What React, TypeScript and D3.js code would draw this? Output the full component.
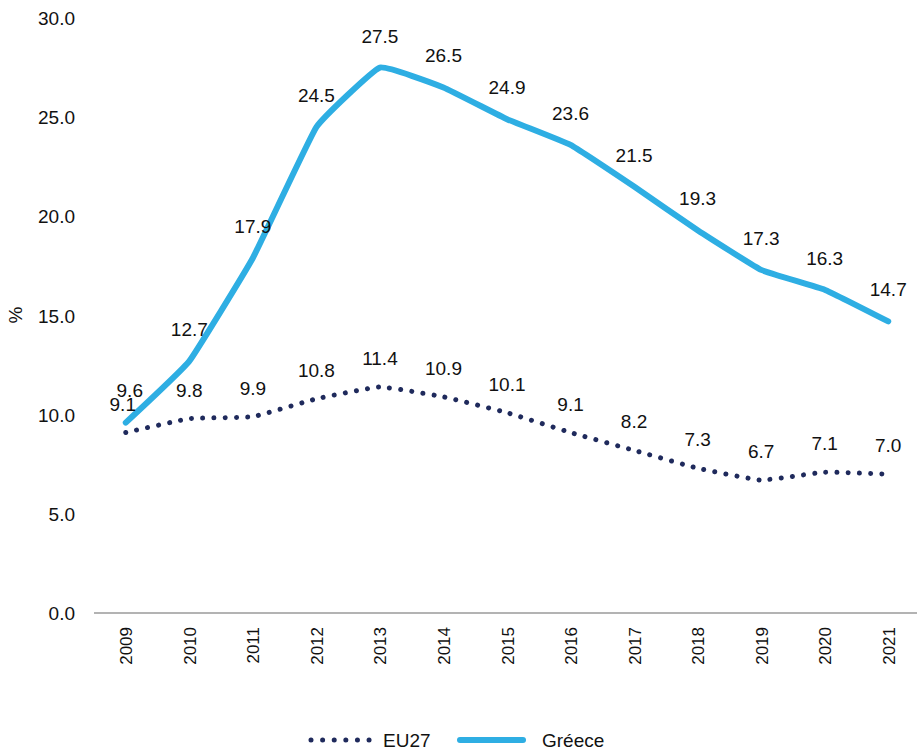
import React from "react";
import * as d3 from "d3";

const years = ["2009","2010","2011","2012","2013","2014","2015","2016","2017","2018","2019","2020","2021"];
const eu27 = [9.1, 9.8, 9.9, 10.8, 11.4, 10.9, 10.1, 9.1, 8.2, 7.3, 6.7, 7.1, 7.0];
const greece = [9.6, 12.7, 17.9, 24.5, 27.5, 26.5, 24.9, 23.6, 21.5, 19.3, 17.3, 16.3, 14.7];
const yTicks = [0, 5, 10, 15, 20, 25, 30];
const seriesNames = ["EU27", "Gréece"];

const W = 917, H = 751;
const FONT = "'Liberation Sans', Arial, Helvetica, sans-serif";
const NAVY = "#1f2a5c";
const BLUE = "#2eaee3";

export default function App() {
  const x = d3.scaleBand<string>().domain(years).range([94, 920]);
  const cx = (yr: string) => (x(yr) as number) + x.bandwidth() / 2;
  const y = d3.scaleLinear().domain([0, 30]).range([613, 18]);

  const line = d3
    .line<number>()
    .x((_, i) => cx(years[i]))
    .y((v) => y(v))
    .curve(d3.curveCardinal.tension(0.7));

  return (
    <svg width={W} height={H} style={{ position: "absolute", left: 0, top: 0, background: "#fff" }}>
      <rect width={W} height={H} fill="#fff" />
      {yTicks.map((t) => (
        <text key={t} x={75} y={y(t) + 7} textAnchor="end" fontFamily={FONT} fontSize={19} fill="#111">
          {t.toFixed(1)}
        </text>
      ))}
      <text
        transform={`translate(22,${315}) rotate(-90)`}
        textAnchor="middle"
        fontFamily={FONT}
        fontSize={19}
        fill="#111"
      >
        %
      </text>
      <line x1={94} x2={917} y1={y(0)} y2={y(0)} stroke="#b3b3b3" strokeWidth={2} />
      {years.map((yr) => (
        <text
          key={yr}
          transform={`translate(${cx(yr) + 6.5},${627}) rotate(-90)`}
          textAnchor="end"
          fontFamily={FONT}
          fontSize={17}
          fill="#111"
        >
          {yr}
        </text>
      ))}
      <path
        d={line(eu27) || ""}
        fill="none"
        stroke={NAVY}
        strokeWidth={5}
        strokeLinecap="round"
        strokeDasharray="0.01 11.2"
      />
      <path
        d={line(greece) || ""}
        fill="none"
        stroke={BLUE}
        strokeWidth={6}
        strokeLinecap="round"
        strokeLinejoin="round"
      />
      {eu27.map((v, i) => (
        <text key={"e" + i} x={cx(years[i]) - (i === 0 ? 3 : 0)} y={y(v) - 22} textAnchor="middle" fontFamily={FONT} fontSize={19} fill="#111">
          {v.toFixed(1)}
        </text>
      ))}
      {greece.map((v, i) => (
        <text key={"g" + i} x={cx(years[i]) + (i === 0 ? 4 : 0)} y={y(v) - (i === 0 ? 26 : 25)} textAnchor="middle" fontFamily={FONT} fontSize={19} fill="#111">
          {v.toFixed(1)}
        </text>
      ))}
      <line x1={311} x2={370} y1={740} y2={740} stroke={NAVY} strokeWidth={5} strokeLinecap="round" strokeDasharray="0.01 11.6" />
      <text x={383} y={747} fontFamily={FONT} fontSize={19} fill="#111">{seriesNames[0]}</text>
      <line x1={460} x2={523} y1={740} y2={740} stroke={BLUE} strokeWidth={6} strokeLinecap="round" />
      <text x={542} y={747} fontFamily={FONT} fontSize={19} fill="#111">{seriesNames[1]}</text>
    </svg>
  );
}
